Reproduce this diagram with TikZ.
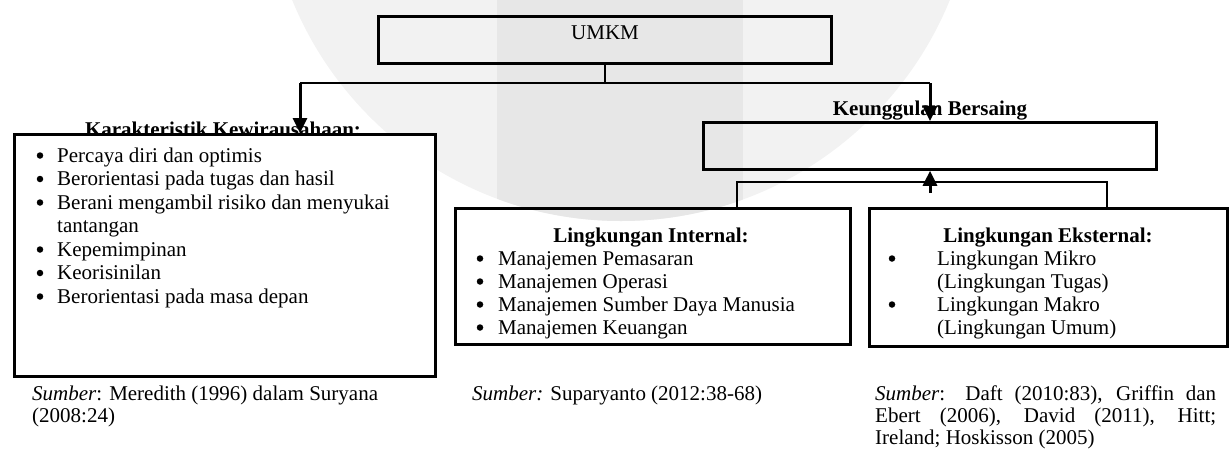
\documentclass[tikz,border=0pt]{standalone}
\usepackage{fontspec}
\setmainfont{Liberation Serif}
\usetikzlibrary{arrows.meta}
\definecolor{wmlight}{gray}{0.95}
\definecolor{wmdark}{gray}{0.905}
\begin{document}
\begin{tikzpicture}[x=1pt,y=-1pt, font=\fontsize{21}{23}\selectfont,
  box/.style={draw, line width=2.8pt, inner sep=0pt},
  conn/.style={line width=1.8pt},
  arr/.style={line width=3pt, -{Triangle[width=14pt,length=15pt]}},
  ttl/.style={font=\fontsize{21}{23}\selectfont\bfseries, anchor=base, inner sep=0pt},
  txt/.style={anchor=base west, inner sep=0pt},
  bul/.style={circle, fill=black, inner sep=0pt, minimum size=6.5pt, yshift=6.5pt}]
\useasboundingbox (0,0) rectangle (1229,451);
% watermark
\begin{scope}
\clip (0,0) rectangle (1229,451);
\fill[wmlight] (621,-134) circle (355);
\clip (621,-134) circle (355);
\fill[wmdark] (497,0) rectangle (743,451);
\end{scope}
% UMKM
\node[box, minimum width=453pt, minimum height=47pt, anchor=north west] (umkm) at (377,15) {};
\node[inner sep=0pt, anchor=base] (umkmt) at (605,39) {UMKM};
% Karakteristik
\node[ttl] (kt) at (223,136) {Karakteristik Kewirausahaan:};
\node[box, fill=white, minimum width=421pt, minimum height=242pt, anchor=north west] (kar) at (13,133) {};
\foreach \y/\t [count=\i] in {162/Percaya diri dan optimis, 185.5/Berorientasi pada tugas dan hasil, 209/Berani mengambil risiko dan menyukai, 256/Kepemimpinan, 279.5/Keorisinilan, 303/Berorientasi pada masa depan}{
  \node[bul] (kb\i) at (40,\y) {};
  \node[txt] (ki\i) at (57,\y) {\t};
}
\node[txt] (ki3b) at (57,232.5) {tantangan};
% Keunggulan
\node[ttl] (kbt) at (930,115) {Keunggulan Bersaing};
\node[box, minimum width=453pt, minimum height=47pt, anchor=north west] (keu) at (702,121) {};
% Internal
\node[box, minimum width=395pt, minimum height=136pt, anchor=north west] (int) at (454,207) {};
\node[ttl] (intt) at (651,242) {Lingkungan Internal:};
\foreach \y/\t [count=\i] in {265/Manajemen Pemasaran, 288/Manajemen Operasi, 311/Manajemen Sumber Daya Manusia, 334/Manajemen Keuangan}{
  \node[bul] (ib\i) at (480,\y) {};
  \node[txt] (ii\i) at (498,\y) {\t};
}
% External
\node[box, minimum width=358pt, minimum height=138pt, anchor=north west] (ext) at (868,207) {};
\node[ttl] (extt) at (1048,242) {Lingkungan Eksternal:};
\node[bul] (eb1) at (892,265) {};
\node[txt] (ei1) at (937,265) {Lingkungan Mikro};
\node[txt] (ei2) at (937,288) {(Lingkungan Tugas)};
\node[bul] (eb2) at (892,311) {};
\node[txt] (ei3) at (937,311) {Lingkungan Makro};
\node[txt] (ei4) at (937,334) {(Lingkungan Umum)};
% connectors
\coordinate (hl) at (300,83);
\coordinate (hr) at (930,83);
\draw[conn] (umkm.south) -- (umkm.south |- hl);
\draw[conn] (hl) -- (hr);
\draw[arr] (hl) -- (hl |- kar.north);
\draw[arr] (hr) -- (hr |- keu.north);
\coordinate (bl) at (737,182);
\coordinate (br) at (1107,182);
\draw[conn] (bl |- int.north) -- (bl) -- (br) -- (br |- ext.north);
\coordinate (us) at (930,193);
\draw[arr] (us) -- (us |- keu.south);
% sources
\node[txt] (s1a) at (32,400) {\textit{Sumber}: Meredith (1996) dalam Suryana};
\node[txt] (s1b) at (32,422) {(2008:24)};
\node[txt] (s2) at (472,400) {\textit{Sumber:} Suparyanto (2012:38-68)};
\node[txt] (s3a) at (875,400) {\makebox[341pt][s]{\textit{Sumber}: Daft (2010:83), Griffin dan}};
\node[txt] (s3b) at (875,422) {\makebox[341pt][s]{Ebert (2006), David (2011), Hitt;}};
\node[txt] (s3c) at (875,444) {Ireland; Hoskisson (2005)};
\end{tikzpicture}
\end{document}
